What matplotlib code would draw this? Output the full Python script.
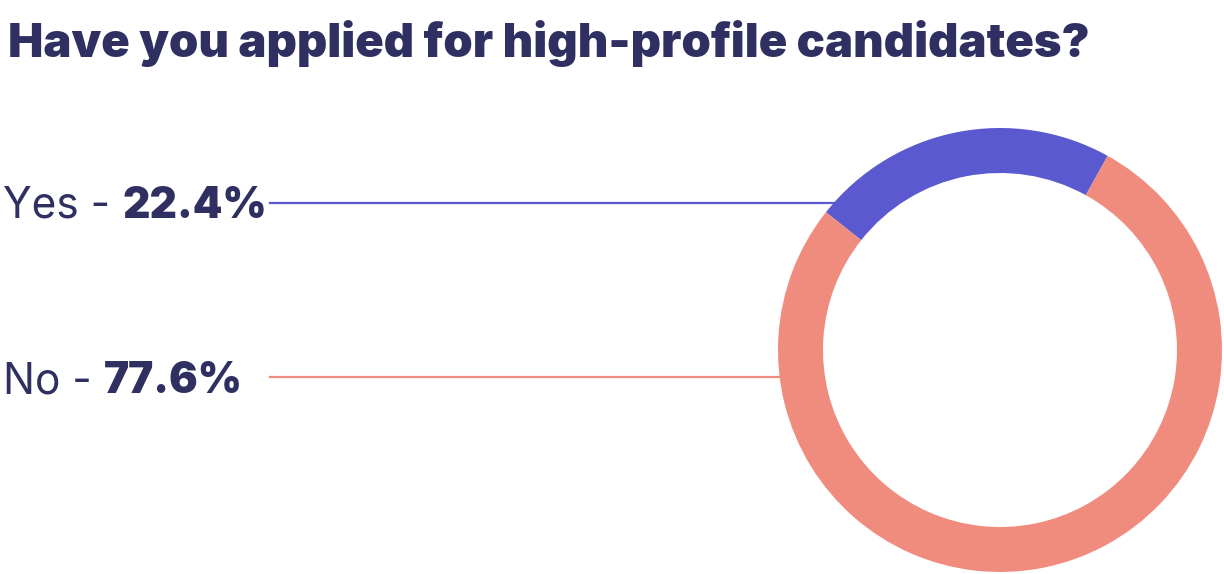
import matplotlib.pyplot as plt
from matplotlib.lines import Line2D
import numpy as np

labels = ['Yes', 'No']
values = [22.4, 77.6]
colors = ['#5a59cf', '#ef8c7e']
title = 'Have you applied for high-profile candidates?'
navy = '#2f3061'

W, H = 1224, 574
fig = plt.figure(figsize=(W / 100, H / 100), dpi=100)

# donut: center (1000, 350) px from top, outer radius 222, ring 45
cx, cy, R = 1000, 350, 222
ax = fig.add_axes([(cx - R) / W, (H - cy - R) / H, 2 * R / W, 2 * R / H])
ax.pie(values, colors=colors, startangle=61, counterclock=True,
       radius=1, wedgeprops=dict(width=45 / R, linewidth=0))
ax.set_xlim(-1, 1)
ax.set_ylim(-1, 1)
ax.set_aspect('equal')
ax.axis('off')

fig.text(8 / W, 1 - 57 / H, title, fontsize=33.9, fontweight='black',
         family='Inter', color=navy, va='baseline')

renderer = fig.canvas.get_renderer()
line_y = [203, 377]
base_y = [218, 393]
for lab, v, col, ly, by in zip(labels, values, colors, line_y, base_y):
    t = fig.text(3 / W, 1 - by / H, lab + ' - ', fontsize=30.5, fontweight='normal',
                 family='Inter', color=navy, va='baseline')
    bb = t.get_window_extent(renderer)
    fig.text(bb.x1 / W, 1 - by / H, f'{v:.1f}%', fontsize=30.5, fontweight='black',
             family='Inter', color=navy, va='baseline')
    # line ends at the outer edge of the ring
    dy = cy - ly
    x_end = cx - np.sqrt(R ** 2 - dy ** 2)
    fig.add_artist(Line2D([270 / W, x_end / W], [1 - ly / H, 1 - ly / H],
                          color=col, lw=1.6, transform=fig.transFigure))

fig.savefig('out.png', dpi=100, facecolor='white')
